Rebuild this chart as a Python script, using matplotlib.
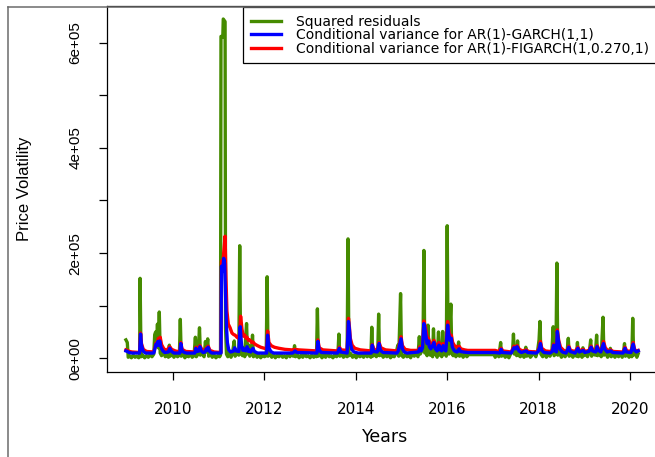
import matplotlib
matplotlib.use("Agg")
import matplotlib.pyplot as plt
from matplotlib.lines import Line2D

plt.rcParams['font.family'] = ['Liberation Sans', 'DejaVu Sans']

# ---------------- data (values in thousands) ----------------
green_t = [2008.97, 2009.00, 2009.02, 2009.05, 2009.09, 2009.13, 2009.17, 2009.21, 2009.25, 2009.27,
           2009.28, 2009.30, 2009.34, 2009.38, 2009.42, 2009.46, 2009.50, 2009.54, 2009.58, 2009.60,
           2009.62, 2009.64, 2009.66, 2009.68, 2009.70, 2009.72, 2009.75, 2009.79, 2009.83, 2009.87,
           2009.90, 2009.92, 2009.94, 2009.98, 2010.02, 2010.06, 2010.10, 2010.14, 2010.16, 2010.18,
           2010.22, 2010.26, 2010.30, 2010.34, 2010.38, 2010.42, 2010.46, 2010.49, 2010.51, 2010.54,
           2010.56, 2010.58, 2010.60, 2010.64, 2010.68, 2010.71, 2010.73, 2010.76, 2010.78, 2010.82,
           2010.86, 2010.90, 2010.94, 2010.98, 2011.02, 2011.04, 2011.05, 2011.09, 2011.10, 2011.14,
           2011.15, 2011.17, 2011.20, 2011.24, 2011.27, 2011.30, 2011.34, 2011.36, 2011.40, 2011.44,
           2011.46, 2011.48, 2011.52, 2011.55, 2011.57, 2011.59, 2011.61, 2011.63, 2011.66, 2011.68,
           2011.72, 2011.74, 2011.76, 2011.80, 2011.84, 2011.88, 2011.92, 2011.96, 2012.00, 2012.04,
           2012.06, 2012.08, 2012.12, 2012.16, 2012.20, 2012.24, 2012.28, 2012.32, 2012.36, 2012.40,
           2012.44, 2012.48, 2012.52, 2012.56, 2012.60, 2012.63, 2012.66, 2012.68, 2012.72, 2012.76,
           2012.80, 2012.84, 2012.88, 2012.92, 2012.96, 2013.00, 2013.04, 2013.08, 2013.12, 2013.14,
           2013.16, 2013.18, 2013.22, 2013.26, 2013.30, 2013.34, 2013.38, 2013.42, 2013.46, 2013.50,
           2013.54, 2013.58, 2013.61, 2013.63, 2013.65, 2013.69, 2013.73, 2013.77, 2013.81, 2013.83,
           2013.85, 2013.89, 2013.93, 2013.97, 2014.01, 2014.05, 2014.09, 2014.13, 2014.17, 2014.21,
           2014.25, 2014.29, 2014.33, 2014.35, 2014.37, 2014.41, 2014.45, 2014.48, 2014.50, 2014.52,
           2014.56, 2014.60, 2014.64, 2014.68, 2014.72, 2014.76, 2014.80, 2014.84, 2014.88, 2014.92,
           2014.94, 2014.98, 2015.00, 2015.04, 2015.08, 2015.12, 2015.16, 2015.20, 2015.24, 2015.28,
           2015.32, 2015.36, 2015.39, 2015.41, 2015.45, 2015.47, 2015.49, 2015.51, 2015.54, 2015.56,
           2015.58, 2015.60, 2015.63, 2015.66, 2015.68, 2015.70, 2015.72, 2015.75, 2015.78, 2015.81,
           2015.83, 2015.86, 2015.88, 2015.90, 2015.92, 2015.95, 2015.98, 2016.00, 2016.02, 2016.04,
           2016.06, 2016.08, 2016.10, 2016.13, 2016.16, 2016.19, 2016.22, 2016.25, 2016.27, 2016.31,
           2016.35, 2016.39, 2016.43, 2016.47, 2017.03, 2017.05, 2017.09, 2017.13, 2017.17, 2017.19,
           2017.23, 2017.27, 2017.31, 2017.35, 2017.39, 2017.43, 2017.45, 2017.47, 2017.50, 2017.52,
           2017.54, 2017.56, 2017.60, 2017.64, 2017.68, 2017.72, 2017.74, 2017.78, 2017.82, 2017.86,
           2017.90, 2017.94, 2017.98, 2018.01, 2018.03, 2018.05, 2018.09, 2018.13, 2018.17, 2018.21,
           2018.25, 2018.29, 2018.32, 2018.34, 2018.38, 2018.40, 2018.42, 2018.46, 2018.50, 2018.54,
           2018.58, 2018.62, 2018.65, 2018.67, 2018.71, 2018.75, 2018.79, 2018.83, 2018.85, 2018.87,
           2018.91, 2018.95, 2018.97, 2018.99, 2019.03, 2019.07, 2019.11, 2019.14, 2019.16, 2019.20,
           2019.24, 2019.27, 2019.29, 2019.33, 2019.37, 2019.41, 2019.43, 2019.47, 2019.51, 2019.55,
           2019.57, 2019.59, 2019.63, 2019.67, 2019.71, 2019.75, 2019.79, 2019.83, 2019.86, 2019.88,
           2019.90, 2019.94, 2019.98, 2020.02, 2020.04, 2020.06, 2020.08, 2020.12, 2020.15, 2020.18]
green_v = [35, 30, 2, 5, 1, 6, 2, 4, 1, 5,
           152, 3, 6, 1, 5, 2, 7, 3, 8, 45,
           50, 30, 65, 20, 88, 10, 5, 14, 3, 8,
           2, 25, 4, 9, 2, 7, 3, 6, 74, 4,
           8, 1, 6, 3, 9, 2, 5, 40, 3, 7,
           25, 58, 6, 10, 3, 32, 12, 37, 4, 8,
           2, 6, 1, 5, 3, 6, 612, 610, 645, 640,
           57, 8, 3, 12, 2, 9, 33, 4, 10, 6,
           214, 12, 5, 20, 3, 40, 66, 8, 25, 4,
           10, 44, 3, 8, 2, 6, 1, 7, 3, 5,
           155, 4, 9, 2, 7, 1, 6, 3, 8, 2,
           5, 1, 9, 3, 12, 4, 24, 3, 7, 1,
           6, 2, 8, 3, 5, 1, 7, 2, 6, 3,
           94, 4, 8, 1, 6, 2, 9, 3, 5, 1,
           7, 3, 10, 46, 4, 8, 2, 6, 3, 227,
           5, 9, 2, 6, 1, 8, 3, 6, 2, 9,
           3, 7, 2, 59, 4, 8, 3, 10, 84, 5,
           9, 2, 7, 3, 8, 1, 6, 3, 9, 25,
           4, 123, 6, 2, 8, 3, 7, 1, 9, 4,
           12, 3, 41, 8, 15, 20, 205, 10, 30, 5,
           63, 12, 6, 25, 3, 56, 8, 15, 2, 50,
           6, 12, 3, 51, 7, 15, 4, 252, 20, 8,
           60, 103, 10, 5, 18, 3, 9, 31, 4, 8,
           2, 10, 3, 7, 7, 2, 8, 3, 30, 4,
           8, 2, 6, 1, 9, 12, 46, 8, 20, 5,
           33, 6, 3, 8, 2, 21, 4, 8, 2, 6,
           12, 3, 15, 35, 70, 8, 3, 10, 2, 8,
           4, 12, 60, 5, 10, 181, 6, 10, 2, 8,
           3, 9, 38, 4, 8, 2, 9, 4, 30, 3,
           8, 2, 20, 5, 9, 3, 12, 35, 4, 10,
           6, 44, 5, 12, 3, 78, 6, 10, 2, 8,
           19, 3, 8, 2, 7, 3, 9, 2, 12, 28,
           4, 8, 2, 10, 3, 76, 6, 12, 2, 9]

garch_t = [2008.97, 2009.00, 2009.04, 2009.10, 2009.27, 2009.29, 2009.31, 2009.35, 2009.40, 2009.58,
           2009.61, 2009.63, 2009.65, 2009.67, 2009.69, 2009.71, 2009.74, 2009.78, 2009.82, 2009.90,
           2009.93, 2009.97, 2010.02, 2010.15, 2010.17, 2010.20, 2010.25, 2010.30, 2010.48, 2010.50,
           2010.53, 2010.57, 2010.59, 2010.62, 2010.66, 2010.70, 2010.73, 2010.75, 2010.77, 2010.80,
           2010.85, 2011.04, 2011.05, 2011.06, 2011.09, 2011.11, 2011.13, 2011.15, 2011.17, 2011.19,
           2011.22, 2011.26, 2011.30, 2011.33, 2011.35, 2011.38, 2011.44, 2011.47, 2011.50, 2011.53,
           2011.56, 2011.59, 2011.62, 2011.65, 2011.67, 2011.70, 2011.75, 2011.78, 2011.85, 2012.05,
           2012.07, 2012.10, 2012.14, 2012.20, 2012.62, 2012.67, 2012.71, 2013.15, 2013.17, 2013.20,
           2013.25, 2013.60, 2013.64, 2013.67, 2013.81, 2013.84, 2013.86, 2013.88, 2013.91, 2013.96,
           2014.05, 2014.34, 2014.36, 2014.39, 2014.47, 2014.51, 2014.54, 2014.60, 2014.90, 2014.93,
           2014.99, 2015.02, 2015.06, 2015.12, 2015.37, 2015.40, 2015.43, 2015.46, 2015.49, 2015.51,
           2015.53, 2015.56, 2015.59, 2015.61, 2015.64, 2015.67, 2015.71, 2015.74, 2015.78, 2015.82,
           2015.85, 2015.88, 2015.91, 2015.94, 2015.97, 2016.01, 2016.03, 2016.06, 2016.09, 2016.11,
           2016.15, 2016.18, 2016.22, 2016.26, 2016.29, 2016.35, 2016.45, 2017.05, 2017.15, 2017.18,
           2017.21, 2017.40, 2017.46, 2017.50, 2017.53, 2017.57, 2017.62, 2017.73, 2017.76, 2017.95,
           2017.99, 2018.02, 2018.04, 2018.07, 2018.12, 2018.25, 2018.30, 2018.33, 2018.36, 2018.39,
           2018.41, 2018.44, 2018.47, 2018.52, 2018.60, 2018.66, 2018.69, 2018.80, 2018.86, 2018.89,
           2018.98, 2019.01, 2019.10, 2019.15, 2019.18, 2019.25, 2019.28, 2019.31, 2019.36, 2019.42,
           2019.45, 2019.50, 2019.58, 2019.62, 2019.85, 2019.89, 2019.92, 2020.02, 2020.07, 2020.10,
           2020.14, 2020.18]
garch_v = [14, 13, 11, 10, 10, 46, 25, 13, 10, 10,
           20, 27, 24, 32, 25, 33, 20, 14, 11, 12,
           19, 13, 10, 10, 28, 14, 11, 10, 10, 19,
           13, 14, 22, 14, 11, 12, 18, 15, 21, 13,
           10, 10, 10, 175, 165, 190, 180, 120, 60, 30,
           16, 12, 13, 14, 20, 14, 13, 60, 25, 15,
           18, 14, 22, 13, 16, 12, 19, 13, 10, 10,
           44, 20, 13, 10, 10, 14, 11, 10, 32, 15,
           11, 10, 19, 12, 10, 70, 55, 30, 17, 12,
           10, 10, 25, 13, 12, 28, 15, 11, 10, 14,
           37, 18, 12, 10, 12, 19, 14, 20, 66, 58,
           45, 28, 33, 22, 18, 22, 30, 18, 14, 25,
           16, 14, 24, 16, 14, 63, 48, 34, 38, 22,
           15, 13, 12, 18, 13, 12, 11, 11, 10, 17,
           11, 10, 20, 18, 22, 14, 11, 14, 11, 10,
           13, 20, 28, 15, 11, 10, 13, 25, 14, 12,
           51, 30, 17, 12, 10, 21, 13, 10, 19, 12,
           15, 11, 13, 21, 14, 12, 22, 15, 12, 28,
           17, 12, 14, 11, 10, 19, 12, 11, 27, 15,
           12, 14]

figarch_t = [2008.97, 2009.00, 2009.05, 2009.10, 2009.27, 2009.29, 2009.31, 2009.35, 2009.42, 2009.58,
             2009.61, 2009.63, 2009.66, 2009.68, 2009.70, 2009.72, 2009.75, 2009.80, 2009.86, 2009.93,
             2009.97, 2010.05, 2010.15, 2010.17, 2010.20, 2010.28, 2010.48, 2010.50, 2010.53, 2010.59,
             2010.63, 2010.70, 2010.73, 2010.77, 2010.81, 2010.90, 2011.04, 2011.05, 2011.06, 2011.09,
             2011.11, 2011.14, 2011.16, 2011.18, 2011.21, 2011.25, 2011.29, 2011.33, 2011.36, 2011.40,
             2011.44, 2011.46, 2011.48, 2011.51, 2011.54, 2011.57, 2011.60, 2011.62, 2011.65, 2011.68,
             2011.72, 2011.75, 2011.79, 2011.85, 2011.92, 2012.00, 2012.05, 2012.07, 2012.10, 2012.15,
             2012.22, 2012.32, 2012.45, 2012.60, 2012.67, 2012.75, 2012.95, 2013.15, 2013.17, 2013.20,
             2013.28, 2013.45, 2013.60, 2013.64, 2013.68, 2013.81, 2013.84, 2013.86, 2013.88, 2013.92,
             2013.98, 2014.10, 2014.34, 2014.36, 2014.40, 2014.47, 2014.51, 2014.55, 2014.65, 2014.90,
             2014.93, 2014.99, 2015.02, 2015.08, 2015.20, 2015.37, 2015.40, 2015.43, 2015.46, 2015.49,
             2015.52, 2015.54, 2015.57, 2015.59, 2015.62, 2015.65, 2015.68, 2015.71, 2015.74, 2015.78,
             2015.82, 2015.85, 2015.88, 2015.91, 2015.94, 2015.97, 2016.01, 2016.03, 2016.06, 2016.09,
             2016.12, 2016.16, 2016.20, 2016.23, 2016.26, 2016.30, 2016.38, 2016.45, 2017.05, 2017.12,
             2017.18, 2017.22, 2017.40, 2017.46, 2017.50, 2017.53, 2017.58, 2017.65, 2017.73, 2017.78,
             2017.95, 2017.99, 2018.02, 2018.04, 2018.07, 2018.15, 2018.25, 2018.30, 2018.33, 2018.36,
             2018.39, 2018.41, 2018.44, 2018.48, 2018.55, 2018.62, 2018.66, 2018.70, 2018.80, 2018.86,
             2018.90, 2018.98, 2019.02, 2019.10, 2019.15, 2019.19, 2019.25, 2019.28, 2019.32, 2019.37,
             2019.42, 2019.46, 2019.52, 2019.58, 2019.63, 2019.85, 2019.89, 2019.93, 2020.02, 2020.07,
             2020.10, 2020.14, 2020.18]
figarch_v = [16, 15, 13, 12, 11, 48, 28, 17, 13, 12,
             22, 29, 28, 38, 30, 40, 26, 18, 15, 22,
             17, 14, 12, 30, 17, 13, 12, 21, 16, 24,
             17, 14, 20, 23, 15, 12, 11, 11, 185, 180,
             200, 232, 150, 90, 65, 58, 48, 45, 44, 40,
             38, 50, 80, 55, 42, 44, 38, 40, 34, 35,
             30, 31, 27, 24, 21, 19, 18, 52, 30, 24,
             21, 19, 17, 16, 17, 16, 15, 14, 35, 20,
             16, 15, 14, 21, 16, 15, 76, 60, 38, 25,
             19, 16, 14, 26, 17, 15, 30, 20, 16, 14,
             17, 41, 24, 17, 15, 15, 22, 18, 24, 71,
             60, 50, 36, 38, 30, 26, 28, 34, 26, 22,
             30, 24, 21, 28, 22, 20, 70, 55, 42, 44,
             30, 24, 22, 20, 23, 18, 16, 15, 15, 13,
             19, 14, 12, 23, 21, 24, 17, 14, 16, 13,
             12, 15, 23, 32, 19, 14, 13, 15, 27, 17,
             15, 54, 34, 21, 15, 13, 23, 15, 13, 21,
             14, 17, 13, 15, 23, 16, 14, 24, 17, 14,
             32, 20, 14, 16, 13, 12, 21, 14, 13, 30,
             17, 14, 15]

x_ticks = [2010, 2012, 2014, 2016, 2018, 2020]
y_ticks = [0, 100000, 200000, 300000, 400000, 500000, 600000]
y_ticklabels = ["0e+00", "", "2e+05", "", "4e+05", "", "6e+05"]
labels = ["Squared residuals",
          "Conditional variance for AR(1)-GARCH(1,1)",
          "Conditional variance for AR(1)-FIGARCH(1,0.270,1)"]

GREEN, BLUE, RED = "#458B00", "#0000FF", "#FF0000"
WIDE = ['DejaVu Sans']

# ---------------- figure ----------------
W, H = 655, 457
fig = plt.figure(figsize=(W / 100, H / 100), dpi=100)
L, R, T, B = 107, 665, 6, 372
ax = fig.add_axes([L / W, 1 - B / H, (R - L) / W, (B - T) / H])

k = 1000.0
lw = 2.4
ax.plot(green_t, [v * k for v in green_v], color=GREEN, lw=lw)
ax.plot(figarch_t, [v * k for v in figarch_v], color=RED, lw=lw)
ax.plot(garch_t, [v * k for v in garch_v], color=BLUE, lw=lw)

ax.set_xlim(2008.556, 2020.766)
ax.set_ylim(-26046, 669770)

ax.set_xticks(x_ticks)
ax.set_xticklabels([str(x) for x in x_ticks], fontsize=11, family=WIDE)
ax.set_yticks(y_ticks)
ax.set_yticklabels(y_ticklabels, fontsize=11, rotation=90, va='center')
ax.tick_params(axis='x', length=5.5, width=0.9, pad=16)
ax.tick_params(axis='y', length=5.5, width=0.9, pad=12)

for s in ['left', 'bottom', 'top', 'right']:
    ax.spines[s].set_linewidth(0.9)
    ax.spines[s].set_color('black')

ax.set_xlabel("Years", fontsize=12.5, family=WIDE)
ax.xaxis.set_label_coords(385 / W, 1 - 437 / H, transform=fig.transFigure)
ax.xaxis.label.set_va('center')
ax.set_ylabel("Price Volatility", fontsize=12)
ax.yaxis.set_label_coords(25 / W, 1 - 189 / H, transform=fig.transFigure)
ax.yaxis.label.set_va('center')

handles = [Line2D([], [], color=c, lw=lw) for c in (GREEN, BLUE, RED)]
leg = ax.legend(handles, labels, loc='upper left',
                bbox_to_anchor=(243 / W, 1 - 7 / H), bbox_transform=fig.transFigure,
                borderaxespad=0, prop={'family': WIDE, 'size': 10},
                handlelength=2.2, handletextpad=1.1,
                borderpad=0.55, labelspacing=-0.03, fancybox=False, framealpha=1,
                edgecolor='black')
leg.get_frame().set_linewidth(0.9)

# outer frame (left and top edges of the captured panel)
fig.add_artist(Line2D([8 / W, 8 / W], [0, 1 - 7 / H], transform=fig.transFigure,
                      color='#6b6b6b', lw=1.1))
fig.add_artist(Line2D([8 / W, 1], [1 - 7 / H, 1 - 7 / H], transform=fig.transFigure,
                      color='#6b6b6b', lw=1.1))

fig.savefig("out.png", dpi=100)
